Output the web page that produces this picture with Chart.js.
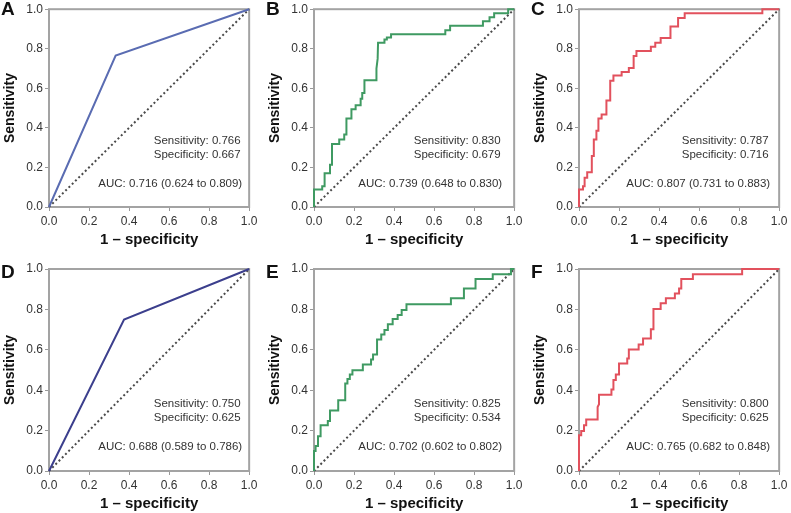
<!DOCTYPE html>
<html>
<head>
<meta charset="utf-8">
<script src="https://cdn.jsdelivr.net/npm/chart.js@4"></script>
<style>
  html, body { margin: 0; padding: 0; background: #fff; }
  #wrap { position: relative; width: 791px; height: 513px; overflow: hidden; }
  #wrap canvas { position: absolute; }
</style>
</head>
<body>
<div id="wrap"></div>
<script>
// ---------- data ----------
const panelLetters = ['A', 'B', 'C', 'D', 'E', 'F'];
const tickValues = [0, 0.2, 0.4, 0.6, 0.8, 1.0];
const xTitle = '1 – specificity';
const yTitle = 'Sensitivity';

const fprA = [0, 0.333, 1];
const tprA = [0, 0.766, 1];

const fprB = [0, 0, 0.041, 0.041, 0.053, 0.053, 0.08, 0.08, 0.09, 0.09, 0.126, 0.126, 0.151, 0.151, 0.162, 0.162, 0.187, 0.187, 0.208, 0.208, 0.233, 0.233, 0.241, 0.241, 0.252, 0.252, 0.312, 0.312, 0.318, 0.32, 0.352, 0.352, 0.364, 0.364, 0.385, 0.385, 0.656, 0.656, 0.68, 0.68, 0.844, 0.844, 0.877, 0.877, 0.9, 0.9, 0.97, 0.97, 1];
const tprB = [0, 0.089, 0.089, 0.105, 0.105, 0.171, 0.171, 0.214, 0.214, 0.319, 0.319, 0.341, 0.341, 0.366, 0.366, 0.448, 0.448, 0.494, 0.494, 0.514, 0.514, 0.547, 0.547, 0.576, 0.576, 0.641, 0.641, 0.70, 0.75, 0.83, 0.83, 0.847, 0.847, 0.857, 0.857, 0.873, 0.873, 0.893, 0.893, 0.916, 0.916, 0.939, 0.939, 0.959, 0.959, 0.98, 0.98, 1, 1];

const fprC = [0, 0, 0.02, 0.02, 0.028, 0.028, 0.041, 0.041, 0.064, 0.064, 0.074, 0.074, 0.087, 0.087, 0.097, 0.097, 0.113, 0.113, 0.137, 0.137, 0.156, 0.156, 0.172, 0.172, 0.213, 0.213, 0.249, 0.249, 0.273, 0.273, 0.287, 0.287, 0.359, 0.359, 0.381, 0.381, 0.408, 0.408, 0.457, 0.457, 0.495, 0.495, 0.528, 0.528, 0.916, 0.916, 1];
const tprC = [0, 0.089, 0.089, 0.105, 0.105, 0.148, 0.148, 0.176, 0.176, 0.258, 0.258, 0.341, 0.341, 0.386, 0.386, 0.448, 0.448, 0.468, 0.468, 0.539, 0.539, 0.638, 0.638, 0.665, 0.665, 0.682, 0.682, 0.703, 0.703, 0.764, 0.764, 0.789, 0.789, 0.81, 0.81, 0.83, 0.83, 0.855, 0.855, 0.912, 0.912, 0.956, 0.956, 0.979, 0.979, 1, 1];

const fprD = [0, 0.375, 1];
const tprD = [0, 0.750, 1];

const fprE = [0, 0, 0.008, 0.008, 0.02, 0.02, 0.033, 0.033, 0.069, 0.069, 0.08, 0.08, 0.121, 0.121, 0.156, 0.156, 0.167, 0.167, 0.179, 0.179, 0.192, 0.192, 0.244, 0.244, 0.285, 0.285, 0.295, 0.295, 0.315, 0.315, 0.336, 0.336, 0.352, 0.352, 0.369, 0.369, 0.393, 0.393, 0.418, 0.418, 0.438, 0.438, 0.462, 0.462, 0.684, 0.684, 0.749, 0.749, 0.807, 0.807, 0.893, 0.893, 0.984, 0.984, 1];
const tprE = [0, 0.099, 0.099, 0.124, 0.124, 0.172, 0.172, 0.226, 0.226, 0.248, 0.248, 0.30, 0.30, 0.35, 0.35, 0.433, 0.433, 0.455, 0.455, 0.478, 0.478, 0.499, 0.499, 0.527, 0.527, 0.552, 0.552, 0.577, 0.577, 0.651, 0.651, 0.676, 0.676, 0.698, 0.698, 0.726, 0.726, 0.752, 0.752, 0.772, 0.772, 0.797, 0.797, 0.825, 0.825, 0.855, 0.855, 0.904, 0.904, 0.95, 0.95, 0.974, 0.974, 1, 1];

const fprF = [0, 0, 0.011, 0.011, 0.025, 0.025, 0.036, 0.036, 0.093, 0.093, 0.1, 0.1, 0.162, 0.162, 0.172, 0.172, 0.184, 0.184, 0.2, 0.2, 0.241, 0.241, 0.249, 0.249, 0.298, 0.298, 0.32, 0.32, 0.359, 0.359, 0.372, 0.372, 0.408, 0.408, 0.434, 0.434, 0.479, 0.479, 0.5, 0.5, 0.511, 0.511, 0.569, 0.569, 0.815, 0.815, 1];
const tprF = [0, 0.177, 0.177, 0.198, 0.198, 0.226, 0.226, 0.255, 0.255, 0.317, 0.33, 0.378, 0.378, 0.403, 0.403, 0.45, 0.45, 0.478, 0.478, 0.532, 0.532, 0.557, 0.557, 0.602, 0.602, 0.626, 0.626, 0.656, 0.656, 0.702, 0.702, 0.802, 0.802, 0.83, 0.83, 0.855, 0.855, 0.879, 0.879, 0.904, 0.904, 0.95, 0.95, 0.974, 0.974, 1, 1];

const diagonalX = [0, 1];
const diagonalY = [0, 1];

const sensitivities = ['0.766', '0.830', '0.787', '0.750', '0.825', '0.800'];
const specificities = ['0.667', '0.679', '0.716', '0.625', '0.534', '0.625'];
const aucTexts = ['0.716 (0.624 to 0.809)', '0.739 (0.648 to 0.830)', '0.807 (0.731 to 0.883)',
                  '0.688 (0.589 to 0.786)', '0.702 (0.602 to 0.802)', '0.765 (0.682 to 0.848)'];
const curvesX = [fprA, fprB, fprC, fprD, fprE, fprF];
const curvesY = [tprA, tprB, tprC, tprD, tprE, tprF];

// ---------- styling / layout ----------
const FONT = "'Liberation Sans', Arial, Helvetica, sans-serif";
Chart.defaults.font.family = FONT;
const lineColors = ['#5a6cb2', '#3f9a62', '#e2515d', '#3c3f8d', '#3f9a62', '#e2515d'];
const textInsets = [8.5, 13.5, 10.5, 8.5, 13.5, 10.5];
const plotLefts = [49, 314, 579];
const plotTops = [5, 269];
const PW = 203, PH = 202, YW = 49, XH = 42;
const canvasTops = [0, 257];
const CW = 261, CH = 256;

function pts(xs, ys) { return xs.map((x, i) => ({ x: x, y: ys[i] })); }

const boxPlugin = {
  id: 'box',
  beforeDatasetsDraw(chart) {
    const { ctx, chartArea: a } = chart;
    ctx.save();
    ctx.strokeStyle = '#a3a3a3';
    ctx.lineWidth = 2;
    ctx.strokeRect(a.left, a.top, a.right - a.left, a.bottom - a.top);
    ctx.restore();
  },
  afterDraw(chart, args, opts) {
    const { ctx, chartArea: a, scales } = chart;
    ctx.save();
    ctx.fillStyle = '#333';
    ctx.font = '11.5px ' + FONT;
    ctx.textAlign = 'right';
    ctx.textBaseline = 'middle';
    const rx = a.right - opts.inset;
    ctx.fillText('Sensitivity: ' + opts.sens, rx, scales.y.getPixelForValue(0.333));
    ctx.fillText('Specificity: ' + opts.spec, rx, scales.y.getPixelForValue(0.262));
    ctx.fillText('AUC: ' + opts.auc, rx + 1.5, scales.y.getPixelForValue(0.119));
    ctx.fillStyle = '#111';
    ctx.font = 'bold 19px ' + FONT;
    ctx.textAlign = 'left';
    ctx.fillText(opts.letter, 1, opts.letterY);
    ctx.restore();
  }
};

const wrap = document.getElementById('wrap');
for (let i = 0; i < 6; i++) {
  const row = Math.floor(i / 3), col = i % 3;
  const cx = plotLefts[col] - YW, cy = canvasTops[row];
  const canvas = document.createElement('canvas');
  canvas.width = CW; canvas.height = CH;
  canvas.style.left = cx + 'px'; canvas.style.top = cy + 'px';
  canvas.style.width = CW + 'px'; canvas.style.height = CH + 'px';
  wrap.appendChild(canvas);
  const padTop = plotTops[row] - cy;
  const padRight = CW - YW - PW;
  const padBottom = CH - padTop - PH - XH;
  const tickFont = { size: 12, family: FONT };
  new Chart(canvas, {
    type: 'line',
    data: {
      datasets: [
        { data: pts(curvesX[i], curvesY[i]), borderColor: lineColors[i], borderWidth: 2,
          pointRadius: 0, tension: 0, fill: false, clip: 4, order: 1, borderJoinStyle: 'miter' },
        { data: pts(diagonalX, diagonalY), borderColor: '#4a4a4a', borderWidth: 2,
          borderDash: [2, 2.6], pointRadius: 0, fill: false, clip: 4, order: 2 }
      ]
    },
    options: {
      responsive: false,
      devicePixelRatio: 1,
      animation: false,
      events: [],
      layout: { autoPadding: false, padding: { left: 0, top: padTop, right: padRight, bottom: padBottom } },
      plugins: {
        legend: { display: false },
        tooltip: { enabled: false },
        box: { inset: textInsets[i], sens: sensitivities[i], spec: specificities[i], auc: aucTexts[i],
               letter: panelLetters[i], letterY: (row === 0 ? 10 : 273) - cy }
      },
      scales: {
        x: {
          type: 'linear', min: 0, max: 1,
          afterBuildTicks: s => { s.ticks = tickValues.map(v => ({ value: v })); },
          ticks: { callback: v => Number(v).toFixed(1), font: tickFont, color: '#333', padding: 3.5,
                   maxRotation: 0, autoSkip: false },
          grid: { drawOnChartArea: false, tickLength: 4, color: '#999', lineWidth: 1 },
          border: { display: false },
          title: { display: true, text: xTitle, color: '#111',
                   font: { size: 15, weight: 'bold', family: FONT, lineHeight: 1.2 }, padding: { top: 0, bottom: 0 } },
          afterFit: s => { s.height = XH; }
        },
        y: {
          type: 'linear', min: 0, max: 1,
          afterBuildTicks: s => { s.ticks = tickValues.map(v => ({ value: v })); },
          ticks: { callback: v => Number(v).toFixed(1), font: tickFont, color: '#333', padding: 2 },
          grid: { drawOnChartArea: false, tickLength: 4, color: '#999', lineWidth: 1 },
          border: { display: false },
          title: { display: true, text: yTitle, color: '#111',
                   font: { size: 14, weight: 'bold', family: FONT, lineHeight: 1.2 }, padding: { top: 2, bottom: 0 } },
          afterFit: s => { s.width = YW; }
        }
      }
    },
    plugins: [boxPlugin]
  });
}
</script>
</body>
</html>
